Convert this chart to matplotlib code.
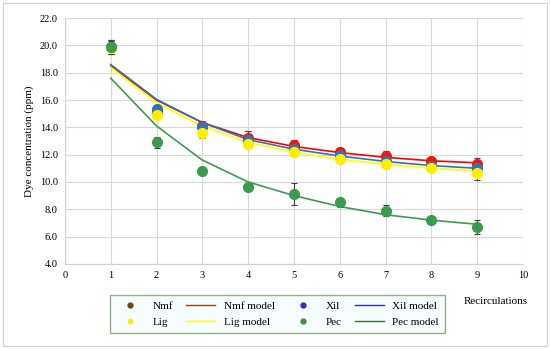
import matplotlib
matplotlib.use("Agg")
import matplotlib.pyplot as plt
from matplotlib.lines import Line2D
from matplotlib.patches import Rectangle

plt.rcParams["font.family"] = ["Liberation Serif", "DejaVu Serif"]

# recirculation number
recirc = [1, 2, 3, 4, 5, 6, 7, 8, 9]

# measured dye concentration (ppm) and error bars
nmf = [19.9, 15.2, 14.1, 13.2, 12.7, 12.2, 11.9, 11.5, 11.35]
nmf_err = [0.5, 0.3, 0.4, 0.5, 0.4, 0.3, 0.4, 0.2, 0.4]
xil = [19.9, 15.35, 14.0, 13.1, 12.4, 12.0, 11.5, 11.2, 11.0]
xil_err = [0.4, 0.3, 0.4, 0.6, 0.3, 0.3, 0.3, 0.2, 0.3]
lig = [19.8, 14.9, 13.6, 12.8, 12.2, 11.7, 11.3, 11.0, 10.65]
lig_err = [0.4, 0.3, 0.4, 0.3, 0.3, 0.3, 0.3, 0.3, 0.5]
pec = [19.9, 12.9, 10.8, 9.6, 9.1, 8.5, 7.9, 7.2, 6.7]
pec_err = [0.5, 0.4, 0.3, 0.2, 0.8, 0.3, 0.4, 0.3, 0.5]

# model curves
nmf_model = [18.5, 16.0, 14.35, 13.25, 12.6, 12.15, 11.8, 11.55, 11.4]
xil_model = [18.6, 16.05, 14.35, 13.1, 12.4, 11.9, 11.5, 11.2, 11.0]
lig_model = [18.4, 15.8, 14.1, 12.9, 12.2, 11.65, 11.3, 11.0, 10.8]
pec_model = [17.6, 14.1, 11.6, 10.0, 9.0, 8.2, 7.6, 7.2, 6.9]

fig = plt.figure(figsize=(5.5, 3.49), dpi=100)
fig.patches.append(Rectangle((0.006, 0.008), 0.988, 0.983, transform=fig.transFigure,
                             fill=False, edgecolor="#d0d0d0", linewidth=0.8))
ax = fig.add_axes([0.118, 0.244, 0.833, 0.704])

# model lines
ax.plot(recirc, nmf_model, color="#ff0000", lw=1.2, zorder=2)
ax.plot(recirc, xil_model, color="#2e75b6", lw=1.2, zorder=2)
ax.plot(recirc, lig_model, color="#ffff00", lw=1.2, zorder=2)
ax.plot(recirc, pec_model, color="#3f9a55", lw=1.2, zorder=2)

# measured points
ekw = dict(fmt="o", ms=7, ecolor="#404040", elinewidth=0.8, capsize=2, capthick=0.8, zorder=3)
ax.errorbar(recirc, nmf, yerr=nmf_err, color="#ff1010", **ekw)
ax.errorbar(recirc, xil, yerr=xil_err, color="#2e75b6", **ekw)
ax.errorbar(recirc, lig, yerr=lig_err, color="#ffee00", **ekw)
ax.errorbar(recirc, pec, yerr=pec_err, color="#3c9a4c", **ekw)

ax.set_xlim(0, 10)
ax.set_ylim(4, 22)
ax.set_xticks(range(0, 11))
ax.set_yticks(range(4, 23, 2))
ax.set_yticklabels([f"{v:.1f}" for v in range(4, 23, 2)])
ax.tick_params(length=0, labelsize=7.5, pad=5)
ax.grid(True, color="#d9d9d9", lw=0.8)
ax.set_axisbelow(True)
for s in ["top", "right"]:
    ax.spines[s].set_visible(False)
for s in ["left", "bottom"]:
    ax.spines[s].set_color("#d0d0d0")
ax.set_ylabel("Dye concentration (ppm)", fontsize=8)

fig.text(0.96, 0.128, "Recirculations", fontsize=8, ha="right")

handles = [
    Line2D([], [], ls="", marker="o", ms=3.5, color="#6b4a12"),
    Line2D([], [], ls="", marker="o", ms=3, color="#f0f000"),
    Line2D([], [], color="#8b4a1a", lw=1),
    Line2D([], [], color="#ffff00", lw=1),
    Line2D([], [], ls="", marker="o", ms=3.5, color="#3030c8"),
    Line2D([], [], ls="", marker="o", ms=3.5, color="#4a8a4a"),
    Line2D([], [], color="#3030c8", lw=1),
    Line2D([], [], color="#3a6a3a", lw=1),
]
labels = ["Nmf", "Lig", "Nmf model", "Lig model", "Xil", "Pec", "Xil model", "Pec model"]
leg = fig.legend(handles, labels, ncol=4, loc="center", bbox_to_anchor=(0.504, 0.1),
                 fontsize=8, frameon=True, fancybox=False, columnspacing=1.15,
                 handlelength=2.6, borderpad=0.5, labelspacing=0.6)
leg.get_frame().set_edgecolor("#7a9a6a")
leg.get_frame().set_linewidth(1.0)
leg.get_frame().set_facecolor("#f6fdfd")

fig.savefig("out.png", dpi=100)
